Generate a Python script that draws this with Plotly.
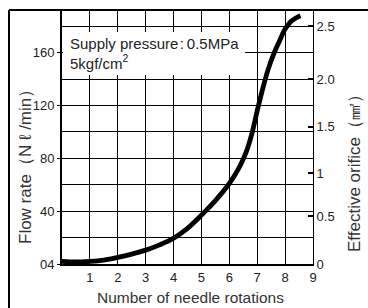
import plotly.graph_objects as go

# ---- data ----
rotations = [0, 0.5, 1, 1.5, 2, 2.5, 3, 3.5, 4, 4.5, 5, 5.5, 6, 6.2, 6.4, 6.6,
             6.8, 7.0, 7.2, 7.4, 7.6, 7.8, 8.0, 8.2, 8.4, 8.55]
flow_rate = [2, 1.5, 2, 3, 5, 7.5, 10.5, 14.5, 19.5, 27, 37, 48, 61, 67.5, 75, 84.5,
             98, 116, 133, 148, 159.5, 169, 178, 183.5, 186.5, 188]

x_tick_vals = [1, 2, 3, 4, 5, 6, 7, 8, 9]
x_tick_text = ["1", "2", "3", "4", "5", "6", "7", "8", "9"]

flow_tick_vals = [0, 40, 80, 120, 160]
flow_tick_text = ["04", "40", "80", "120", "160"]
flow_minor_vals = [20, 60, 100, 140, 180]

# effective orifice scale (non-linear), positions expressed in flow units
orifice_tick_pos = [0, 36.4, 68.7, 104, 140, 180]
orifice_tick_text = ["0", "0.5", "1", "1.5", "2.0", "2.5"]

W, H = 368, 308
L, R, T, B = 62, 55, 10, 44
pw, ph = W - L - R, H - T - B


def px(x):
    return (x - L) / pw


def py(y):
    return (H - B - y) / ph


FONT = "Liberation Sans, Arial, Helvetica, sans-serif"

fig = go.Figure()
fig.add_trace(go.Scatter(
    x=rotations, y=flow_rate, mode="lines",
    line=dict(color="black", width=4.8, shape="spline", smoothing=1.0),
    hoverinfo="skip", showlegend=False,
))
# invisible trace for secondary axis
fig.add_trace(go.Scatter(x=[None], y=[None], yaxis="y2", showlegend=False))

fig.update_layout(
    width=W, height=H,
    margin=dict(l=L, r=R, t=T, b=B, pad=0),
    paper_bgcolor="white", plot_bgcolor="white",
    font=dict(family=FONT, size=13, color="#222"),
    xaxis=dict(
        range=[0, 9], tickvals=x_tick_vals, ticktext=x_tick_text,
        showgrid=True, gridcolor="black", gridwidth=1,
        showline=True, linecolor="black", linewidth=1.5,
        ticks="", zeroline=False, fixedrange=True, ticklabelstandoff=1,
        tickfont=dict(size=13, color="#222"),
    ),
    yaxis=dict(
        range=[0, 192.4], tickvals=flow_tick_vals, ticktext=flow_tick_text,
        showgrid=True, gridcolor="black", gridwidth=1,
        minor=dict(tickvals=flow_minor_vals, showgrid=True, gridcolor="black",
                   gridwidth=1, ticks=""),
        showline=True, linecolor="black", linewidth=2,
        ticks="outside", ticklen=3, tickwidth=1, tickcolor="black",
        zeroline=False, fixedrange=True,
        tickfont=dict(size=13, color="#222"),
    ),
    yaxis2=dict(
        overlaying="y", side="right", range=[0, 192.4],
        tickvals=orifice_tick_pos, ticktext=orifice_tick_text,
        showgrid=False, showline=True, linecolor="black", linewidth=1,
        ticks="inside", ticklen=5, tickwidth=2, tickcolor="black",
        zeroline=False, fixedrange=True,
        tickfont=dict(size=13, color="#222"),
    ),
    shapes=[
        # white box behind the annotation
        dict(type="rect", xref="paper", yref="paper",
             x0=px(63), x1=px(245), y0=py(75), y1=py(32),
             fillcolor="white", line=dict(width=0), layer="above"),
        # outer frame (left and top)
        dict(type="line", xref="paper", yref="paper",
             x0=px(9), x1=px(368), y0=py(10), y1=py(10),
             line=dict(color="black", width=2)),
        dict(type="line", xref="paper", yref="paper",
             x0=px(9), x1=px(9), y0=py(10), y1=py(308),
             line=dict(color="black", width=2)),
    ],
    annotations=[
        dict(text="Supply pressure\u200a:\u20090.5MPa<br>5kgf/cm<sup>2</sup>",
             xref="paper", yref="paper", x=px(68), y=py(53),
             xanchor="left", yanchor="middle", align="left", showarrow=False,
             font=dict(size=15, color="#222", family=FONT)),
        dict(text="Number of needle rotations", xref="paper", yref="paper",
             x=px(190), y=py(297), xanchor="center", yanchor="middle",
             showarrow=False, font=dict(size=15.5, color="#333", family=FONT)),
        dict(text="Flow rate\uff08N \u2113 /min\uff09", xref="paper", yref="paper",
             x=px(25), y=py(163), xanchor="center", yanchor="middle",
             textangle=-90, showarrow=False,
             font=dict(size=17, color="#333", family=FONT)),
        dict(text="Effective orifice\uff08\u339f\uff09", xref="paper", yref="paper",
             x=px(354), y=py(169), xanchor="center", yanchor="middle",
             textangle=-90, showarrow=False,
             font=dict(size=17, color="#333", family=FONT)),
    ],
)

fig.write_html(
    "out.html",
    config={"displayModeBar": False},
    post_script="document.body.style.margin='0';document.body.style.overflow='hidden';",
)
